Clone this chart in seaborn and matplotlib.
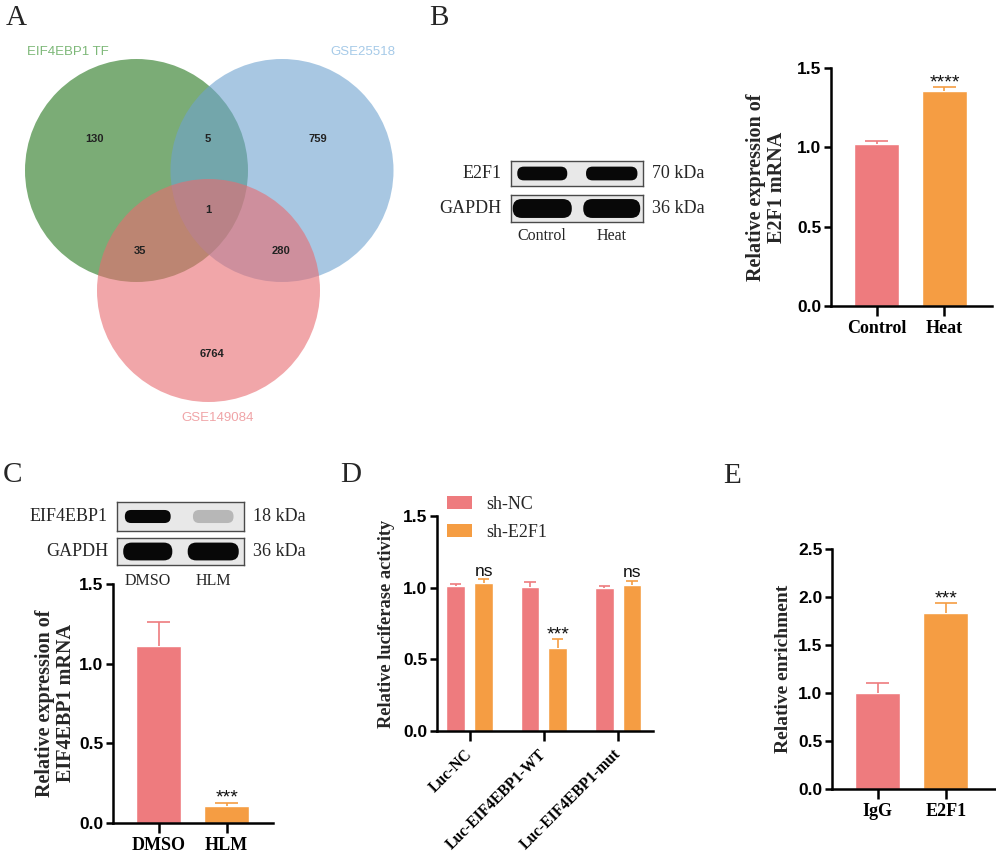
import numpy as np
import pandas as pd
import matplotlib
matplotlib.use("Agg")
import matplotlib.pyplot as plt
import seaborn as sns
from matplotlib.patches import Circle, FancyBboxPatch, Patch
import matplotlib.transforms as mtransforms

# ---------------- data ----------------
venn_labels = ["EIF4EBP1 TF", "GSE25518", "GSE149084"]
venn_regions = ["A", "B", "C", "AB", "AC", "BC", "ABC"]
venn_counts = [130, 759, 6764, 5, 35, 280, 1]

b_groups = ["Control", "Heat"]
b_means = [1.02, 1.357]
b_errs = [0.022, 0.021]
b_sig = "****"

c_groups = ["DMSO", "HLM"]
c_means = [1.113, 0.109]
c_errs = [0.147, 0.017]
c_sig = "***"

d_constructs = ["Luc-NC", "Luc-EIF4EBP1-WT", "Luc-EIF4EBP1-mut"]
d_hues = ["sh-NC", "sh-E2F1"]
d_shnc = [1.012, 1.003, 0.995]
d_shnc_err = [0.016, 0.034, 0.019]
d_she2f1 = [1.030, 0.577, 1.019]
d_she2f1_err = [0.028, 0.063, 0.028]
d_sig = ["ns", "***", "ns"]

e_groups = ["IgG", "E2F1"]
e_means = [0.998, 1.838]
e_errs = [0.102, 0.098]
e_sig = "***"

blot_b_rows = ["E2F1", "GAPDH"]
blot_b_kda = ["70 kDa", "36 kDa"]
blot_b_lanes = ["Control", "Heat"]
blot_b_intensity = [[1.0, 1.0], [1.0, 1.0]]
blot_b_bandw = [[0.72, 0.74], [0.85, 0.82]]
blot_b_bandh = [0.55, 0.70]

blot_c_rows = ["EIF4EBP1", "GAPDH"]
blot_c_kda = ["18 kDa", "36 kDa"]
blot_c_lanes = ["DMSO", "HLM"]
blot_c_intensity = [[1.0, 0.22], [1.0, 1.0]]
blot_c_bandw = [[0.70, 0.62], [0.75, 0.78]]
blot_c_bandh = [0.45, 0.66]

PINK = "#EE7B7E"
ORANGE = "#F59D43"
SANS = "Liberation Sans"
SERIF = "Liberation Serif"

sns.set_style("ticks")
plt.rcParams["font.family"] = [SANS, "DejaVu Sans"]

W, H = 996, 857
fig = plt.figure(figsize=(W / 100, H / 100), dpi=100)


def px_axes(x0, y0, x1, y1):
    return fig.add_axes([x0 / W, 1 - y1 / H, (x1 - x0) / W, (y1 - y0) / H])


# ---------------- panel letters ----------------
for letter, (x, y) in zip("ABCDE", [(6, 25), (429, 25), (3, 482), (340, 482), (723, 483)]):
    fig.text(x / W, 1 - y / H, letter, family=SERIF, fontsize=21, ha="left", va="baseline")

# ---------------- Venn (A) ----------------
axv = px_axes(0, 0, 498, 428)
axv.set_xlim(0, 498)
axv.set_ylim(428, 0)
axv.axis("off")
venn_circles = [((136.5, 170.5), "#23761B"), ((282.0, 170.5), "#6EA3D0"), ((208.5, 290.5), "#E86B70")]
for (c, col) in venn_circles:
    axv.add_patch(Circle(c, 111.5, facecolor=col, edgecolor="none", alpha=0.6))
venn_label_pos = [(68, 52), (363, 52), (218, 418)]
venn_label_cols = ["#7DB878", "#A6CAE8", "#F0A4A7"]
for lab, (x, y), col in zip(venn_labels, venn_label_pos, venn_label_cols):
    axv.text(x, y, lab, color=col, fontsize=9.5, ha="center", va="center")
venn_num_pos = {"A": (95, 139), "B": (318, 139), "C": (212, 354), "AB": (208, 139),
                "AC": (140, 251), "BC": (281, 251), "ABC": (208, 210)}
for reg, n in zip(venn_regions, venn_counts):
    x, y = venn_num_pos[reg]
    axv.text(x, y, str(n), fontsize=8, fontweight="bold", color="#222222", ha="center", va="center")


# ---------------- blots ----------------
def draw_blot(boxes, rows, kdas, lanes, intensity, bandw, bandh, margin, lane_label_gap):
    bg = np.array([0.91, 0.91, 0.91])
    nl = len(lanes)
    axes = []
    for r, (box, row, kda) in enumerate(zip(boxes, rows, kdas)):
        ax = px_axes(*box)
        ax.set_xlim(-margin, nl - 1 + margin)
        ax.set_ylim(0, 1)
        ax.set_facecolor(bg)
        ax.set_xticks([]); ax.set_yticks([])
        for s in ax.spines.values():
            s.set_visible(True); s.set_color("#4a4a4a"); s.set_linewidth(1.0)
        wpx = box[2] - box[0]; hpx = box[3] - box[1]
        px_per_x = wpx / (nl - 1 + 2 * margin)
        px_per_y = hpx
        for i in range(nl):
            w = bandw[r][i]; h = bandh[r]
            col = (1 - intensity[r][i]) * bg + intensity[r][i] * np.array([0.03, 0.03, 0.03])
            rs = (h * px_per_y / 2) / px_per_x
            p = FancyBboxPatch((i - w / 2, 0.5 - h / 2), w, h,
                               boxstyle=f"round,pad=0,rounding_size={rs*0.95:.4f}",
                               mutation_aspect=px_per_x / px_per_y,
                               facecolor=col, edgecolor="none")
            ax.add_patch(p)
        ax.text(-0.07, 0.5, row, transform=ax.transAxes, ha="right", va="center",
                family=SERIF, fontsize=13)
        ax.text(1.07, 0.5, kda, transform=ax.transAxes, ha="left", va="center",
                family=SERIF, fontsize=13)
        axes.append(ax)
    last = axes[-1]
    hpx = boxes[-1][3] - boxes[-1][1]
    trans = mtransforms.blended_transform_factory(last.transData, last.transAxes)
    for i, lab in enumerate(lanes):
        last.text(i, -lane_label_gap / hpx, lab, transform=trans, ha="center", va="center",
                  family=SERIF, fontsize=11.5)


draw_blot([(511, 161, 643, 186), (511, 195, 643, 222)], blot_b_rows, blot_b_kda, blot_b_lanes,
          blot_b_intensity, blot_b_bandw, blot_b_bandh, 0.45, 14)
draw_blot([(117, 502, 244, 531), (117, 538, 244, 565)], blot_c_rows, blot_c_kda, blot_c_lanes,
          blot_c_intensity, blot_c_bandw, blot_c_bandh, 0.47, 16)


# ---------------- bar panels ----------------
def style_axes(ax, ylim, yticks, xlim, ylabel, labelpad, xfs=13, rot=0, ylfs=14.5, xpad=3):
    ax.set_ylim(*ylim)
    ax.set_yticks(yticks)
    ax.set_yticklabels([f"{t:.1f}" for t in yticks], fontweight="bold", fontsize=12.5)
    ax.set_xlim(*xlim)
    sns.despine(ax=ax)
    for s in ["left", "bottom"]:
        ax.spines[s].set_linewidth(1.8)
        ax.spines[s].set_color("black")
    ax.tick_params(axis="y", length=5, width=1.8, pad=2, colors="black")
    ax.tick_params(axis="x", length=7, width=1.8, pad=xpad, colors="black")
    for lab in ax.get_xticklabels():
        lab.set_family(SERIF); lab.set_fontweight("bold"); lab.set_fontsize(xfs)
        if rot:
            lab.set_rotation(rot); lab.set_ha("right"); lab.set_va("center")
            lab.set_rotation_mode("anchor")
    ax.set_xlabel("")
    ax.set_ylabel(ylabel, family=SERIF, fontweight="bold", fontsize=ylfs, linespacing=1.1,
                  labelpad=labelpad)
    ax.set_facecolor("none")


def add_err(ax, bar, m, e, color, capfrac, sig=None):
    x = bar.get_x() + bar.get_width() / 2
    hw = bar.get_width() * capfrac / 2
    ax.plot([x, x], [m, m + e], color=color, lw=1.2, zorder=5, solid_capstyle="butt")
    ax.plot([x - hw, x + hw], [m + e, m + e], color=color, lw=1.2, zorder=5,
            solid_capstyle="butt")
    if sig:
        if sig == "ns":
            ax.annotate(sig, (x, m + e), xytext=(0, 2.5), textcoords="offset points",
                        ha="center", va="baseline", fontsize=12.5, color="#111111")
        else:
            ax.annotate(sig, (x, m + e), xytext=(0, 0), textcoords="offset points",
                        ha="center", va="baseline", fontsize=14, color="#111111")


def simple_panel(box, groups, means, errs, sig, ylim, yticks, xlim, ylabel, labelpad, ylfs=14.5):
    ax = px_axes(*box)
    df = pd.DataFrame({"g": groups, "v": means})
    sns.barplot(data=df, x="g", y="v", hue="g", palette=[PINK, ORANGE], width=0.66,
                saturation=1, errorbar=None, legend=False, ax=ax)
    bars = sorted([p for c in ax.containers for p in c], key=lambda p: p.get_x())
    for i, (bar, m, e) in enumerate(zip(bars, means, errs)):
        add_err(ax, bar, m, e, [PINK, ORANGE][i], 0.5, sig if i == 1 else None)
    style_axes(ax, ylim, yticks, xlim, ylabel, labelpad, ylfs=ylfs)
    return ax


simple_panel((831, 68, 992, 306), b_groups, b_means, b_errs, b_sig, (0, 1.5),
             [0, 0.5, 1.0, 1.5], (-0.67, 1.70), "Relative expression of\nE2F1 mRNA", 7)
simple_panel((113, 584, 273, 823), c_groups, c_means, c_errs, c_sig, (0, 1.5),
             [0, 0.5, 1.0, 1.5], (-0.67, 1.68), "Relative expression of\nEIF4EBP1 mRNA", 2)
simple_panel((832, 549, 995, 789), e_groups, e_means, e_errs, e_sig, (0, 2.5),
             [0, 0.5, 1.0, 1.5, 2.0, 2.5], (-0.67, 1.72), "Relative enrichment", 4, ylfs=14)

# panel D
axd = px_axes(437, 516, 653, 731)
dfd = pd.DataFrame({
    "construct": d_constructs * 2,
    "group": [d_hues[0]] * 3 + [d_hues[1]] * 3,
    "value": d_shnc + d_she2f1,
})
sns.barplot(data=dfd, x="construct", y="value", hue="group", hue_order=d_hues,
            palette=[PINK, ORANGE], width=0.75, gap=0.33, saturation=1, errorbar=None,
            legend=False, ax=axd)
for k, (cont, means, errs, col) in enumerate(zip(axd.containers, [d_shnc, d_she2f1],
                                                  [d_shnc_err, d_she2f1_err], [PINK, ORANGE])):
    for j, (bar, m, e) in enumerate(zip(cont, means, errs)):
        s = d_sig[j] if k == 1 else None
        add_err(axd, bar, m, e, col, 0.6, s)
style_axes(axd, (0, 1.5), [0, 0.5, 1.0, 1.5], (-0.44, 2.47), "Relative luciferase activity", 6,
           xfs=11.2, rot=45, ylfs=13.2, xpad=8)
handles = [Patch(facecolor=PINK, edgecolor="none"), Patch(facecolor=ORANGE, edgecolor="none")]
fig.legend(handles, d_hues, loc="upper left", bbox_to_anchor=(447 / W, 1 - 496 / H),
           frameon=False, prop=dict(family=SERIF, size=13), handlelength=1.4, handleheight=0.7,
           handletextpad=0.8, labelspacing=0.6, borderpad=0, borderaxespad=0)

fig.savefig("out.png", dpi=100)
